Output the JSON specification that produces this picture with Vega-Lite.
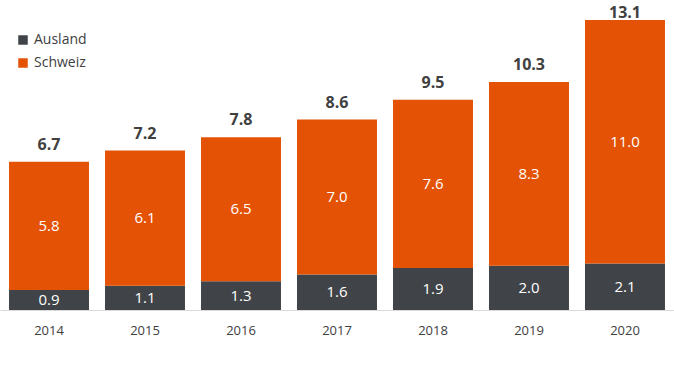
{
  "$schema": "https://vega.github.io/schema/vega-lite/v6.json",
  "width": 674,
  "height": 290,
  "autosize": {"type": "none"},
  "padding": {"left": 0, "top": 20, "right": 0, "bottom": 63},
  "background": "white",
  "config": {
    "view": {"stroke": null},
    "font": "Open Sans"
  },
  "data": {
    "values": [
      {"year": "2014", "Region": "Ausland", "value": 0.9},
      {"year": "2014", "Region": "Schweiz", "value": 5.8},
      {"year": "2015", "Region": "Ausland", "value": 1.1},
      {"year": "2015", "Region": "Schweiz", "value": 6.1},
      {"year": "2016", "Region": "Ausland", "value": 1.3},
      {"year": "2016", "Region": "Schweiz", "value": 6.5},
      {"year": "2017", "Region": "Ausland", "value": 1.6},
      {"year": "2017", "Region": "Schweiz", "value": 7.0},
      {"year": "2018", "Region": "Ausland", "value": 1.9},
      {"year": "2018", "Region": "Schweiz", "value": 7.6},
      {"year": "2019", "Region": "Ausland", "value": 2.0},
      {"year": "2019", "Region": "Schweiz", "value": 8.3},
      {"year": "2020", "Region": "Ausland", "value": 2.1},
      {"year": "2020", "Region": "Schweiz", "value": 11.0}
    ]
  },
  "encoding": {
    "x": {
      "field": "year",
      "type": "nominal",
      "scale": {"paddingInner": 0.167, "paddingOuter": 0.094},
      "axis": {
        "title": null,
        "labelAngle": 0,
        "labelFontSize": 13,
        "labelColor": "#404040",
        "labelPadding": 14,
        "ticks": false,
        "domainColor": "#d9d9d9",
        "domainWidth": 1
      }
    }
  },
  "layer": [
    {
      "mark": {"type": "bar"},
      "encoding": {
        "y": {
          "field": "value",
          "type": "quantitative",
          "stack": "zero",
          "scale": {"domain": [0, 13.1], "nice": false},
          "axis": null
        },
        "order": {"field": "Region", "type": "nominal", "sort": "ascending"},
        "color": {
          "field": "Region",
          "type": "nominal",
          "scale": {"domain": ["Ausland", "Schweiz"], "range": ["#404448", "#E35205"]},
          "legend": {
            "title": null,
            "orient": "none",
            "legendX": 16,
            "legendY": 13,
            "symbolType": "square",
            "symbolSize": 90,
            "symbolStrokeWidth": 0,
            "labelFontSize": 14,
            "labelColor": "#404040",
            "rowPadding": 9,
            "labelOffset": 4
          }
        }
      }
    },
    {
      "mark": {"type": "text", "fontSize": 15, "color": "white", "baseline": "middle"},
      "encoding": {
        "y": {
          "field": "value",
          "type": "quantitative",
          "stack": "zero",
          "bandPosition": 0.5,
          "scale": {"domain": [0, 13.1], "nice": false},
          "axis": null
        },
        "order": {"field": "Region", "type": "nominal", "sort": "ascending"},
        "detail": {"field": "Region", "type": "nominal"},
        "text": {"field": "value", "type": "quantitative", "format": ".1f"}
      }
    },
    {
      "mark": {"type": "text", "fontSize": 16, "fontWeight": "bold", "color": "#404040", "baseline": "alphabetic"},
      "encoding": {
        "y": {
          "aggregate": "sum",
          "field": "value",
          "type": "quantitative",
          "scale": {"domain": [0, 12.648], "range": [278, -2], "clamp": true, "nice": false, "zero": true},
          "axis": null
        },
        "text": {"aggregate": "sum", "field": "value", "type": "quantitative", "format": ".1f"}
      }
    }
  ],
  "resolve": {"scale": {"y": "independent"}}
}
